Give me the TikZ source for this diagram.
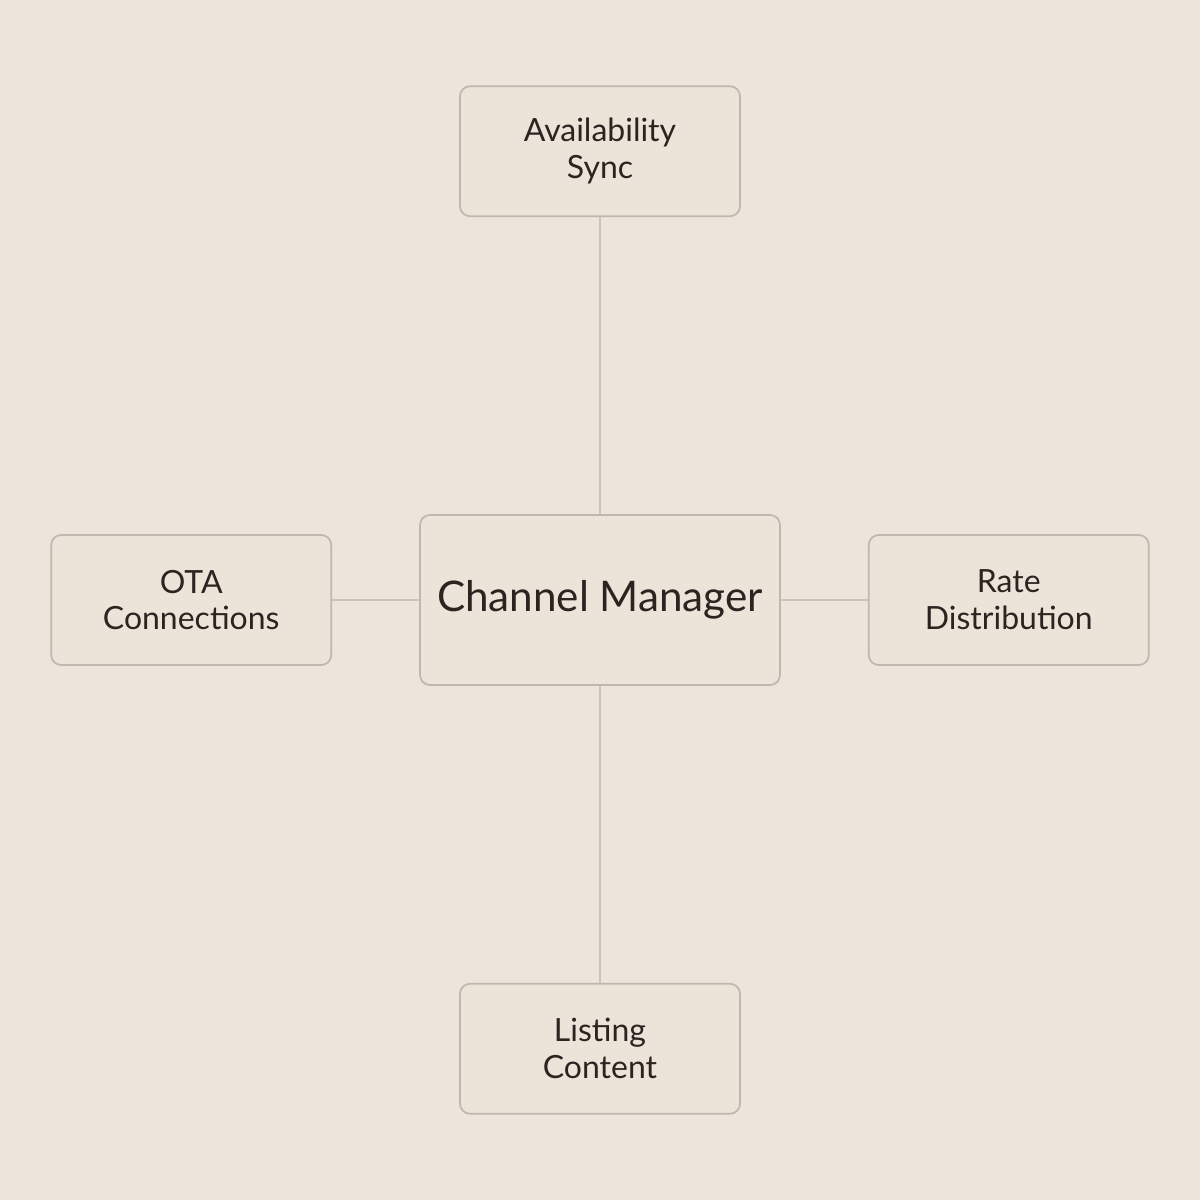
\documentclass[tikz,border=0pt]{standalone}
\usepackage{fontspec}
\setmainfont{Lato}
\usetikzlibrary{positioning}
\definecolor{bgcol}{HTML}{EDE5DC}
\definecolor{boxfill}{HTML}{EBE4D9}
\definecolor{boxdraw}{HTML}{BFB8AE}
\definecolor{linecol}{HTML}{CBC4BA}
\definecolor{txtcol}{HTML}{2B2420}
\tikzstyle{box} = [draw=boxdraw, fill=boxfill, rounded corners=0.1cm, line width=0.5pt,
  text=txtcol, align=center, minimum width=2.8cm, minimum height=1.3cm,
  font=\fontsize{9.1}{10.5}\selectfont]
\tikzstyle{link} = [draw=linecol, line width=0.5pt]

\begin{document}
\begin{tikzpicture}
	\fill[bgcol] (0,0) rectangle (12,12);
	\useasboundingbox (0,0) rectangle (12,12);
	\node [box, minimum width=3.6cm, minimum height=1.7cm,
		font=\fontsize{12}{14}\selectfont] (manager) at (6,6) {Channel Manager};
	\node [box, above=2.97cm of manager] (sync) {Availability\\Sync};
	\node [box, below=2.97cm of manager] (listing) {Listing\\Content};
	\node [box, left=0.87cm of manager] (ota) {OTA\\Connections};
	\node [box, right=0.87cm of manager] (rate) {Rate\\Distribution};
	\path [link] (manager) -- (sync);
	\path [link] (manager) -- (listing);
	\path [link] (manager) -- (ota);
	\path [link] (manager) -- (rate);
\end{tikzpicture}
\end{document}
